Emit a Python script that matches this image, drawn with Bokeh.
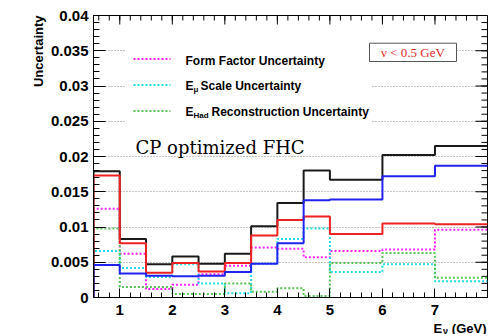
from bokeh.plotting import figure
from bokeh.models import Range1d, FixedTicker, Label
from bokeh.embed import file_html
from bokeh.resources import INLINE

# Neutrino energy binning (GeV)
bin_edges = [0.5, 1.0, 1.5, 2.0, 2.5, 3.0, 3.5, 4.0, 4.5, 5.0, 6.0, 7.0, 8.0]

# Fractional uncertainties per bin
total_unc = [0.0179, 0.0083, 0.0047, 0.0058, 0.0048, 0.0062,
             0.0101, 0.0134, 0.0180, 0.0167, 0.0202, 0.0215]
combined_syst = [0.0173, 0.0077, 0.0035, 0.0049, 0.0037, 0.0049,
                 0.0088, 0.0110, 0.0115, 0.0090, 0.0105, 0.0104]
other_unc = [0.0046, 0.0034, 0.0031, 0.0030, 0.0031, 0.0036,
             0.0048, 0.0077, 0.0138, 0.0139, 0.0172, 0.0187]
form_factor_unc = [0.0126, 0.0062, 0.0012, 0.0018, 0.0033, 0.0045,
                   0.0071, 0.0069, 0.0057, 0.0066, 0.0068, 0.0096]
emu_scale_unc = [0.0066, 0.0042, 0.0029, 0.0047, 0.0020, 0.0006,
                 0.0048, 0.0083, 0.0098, 0.0036, 0.0047, 0.0023]
ehad_reco_unc = [0.0098, 0.0015, 0.0015, 0.0005, 0.0005, 0.0020,
                 0.0008, 0.0013, 0.0002, 0.0049, 0.0063, 0.0028]

y_ticks = [0, 0.005, 0.01, 0.015, 0.02, 0.025, 0.03, 0.035, 0.04]
y_tick_labels = ["0", "0.005", "0.01", "0.015", "0.02", "0.025", "0.03", "0.035", "0.04"]
x_ticks = [1, 2, 3, 4, 5, 6, 7]
x_tick_labels = ["1", "2", "3", "4", "5", "6", "7"]

X_MIN, X_MAX = 0.5, 8.0
Y_MIN, Y_MAX = 0.0, 0.04

# canvas geometry of the frame (pixels)
W, H = 498, 334
FL, FR, FT, FB = 93, 487, 15, 297

SANS = "Liberation Sans"

PX_PER_X = (FR - FL) / (X_MAX - X_MIN)
PX_PER_Y = (FB - FT) / (Y_MAX - Y_MIN)


def dx(px):
    return X_MIN + (px - FL) / PX_PER_X


def dy(py):
    return Y_MIN + (FB - py) / PX_PER_Y


p = figure(width=W, height=H, x_range=Range1d(X_MIN, X_MAX), y_range=Range1d(Y_MIN, Y_MAX),
           output_backend="svg", toolbar_location=None,
           min_border_left=FL, min_border_right=W - FR,
           min_border_top=FT, min_border_bottom=H - FB)
p.background_fill_color = "white"
p.border_fill_color = "white"
p.outline_line_color = "black"
p.outline_line_width = 1

x_minor = [round(X_MIN + 0.2 * i + 0.1, 1) for i in range(38)]
y_minor = [round(0.001 * i, 3) for i in range(41)]

X_MAJ_LEN, X_MIN_LEN = 9, 5
Y_MAJ_LEN, Y_MIN_LEN = 12, 6

# axes
xa = p.xaxis[0]
xa.ticker = FixedTicker(ticks=x_ticks, minor_ticks=x_minor)
xa.major_label_overrides = dict(zip(x_ticks, x_tick_labels))
ya = p.yaxis[0]
ya.ticker = FixedTicker(ticks=y_ticks, minor_ticks=y_minor)
ya.major_label_overrides = dict(zip(y_ticks, y_tick_labels))

for ax, tin, min_in in ((xa, X_MAJ_LEN, X_MIN_LEN), (ya, Y_MAJ_LEN, Y_MIN_LEN)):
    ax.major_tick_in = tin
    ax.major_tick_out = 0
    ax.minor_tick_in = min_in
    ax.minor_tick_out = 0
    ax.axis_line_color = "black"
    ax.major_tick_line_color = "black"
    ax.minor_tick_line_color = "black"
    ax.major_label_text_font = SANS
    ax.major_label_text_font_style = "bold"
    ax.major_label_text_font_size = "15px"
    ax.major_label_text_color = "black"
xa.major_label_standoff = 7
ya.major_label_standoff = 5

# mirrored ticks on the top and right edges of the frame
p.segment(x0=x_ticks, y0=[Y_MAX] * len(x_ticks), x1=x_ticks,
          y1=[Y_MAX - X_MAJ_LEN / PX_PER_Y] * len(x_ticks), line_color="black", line_width=1)
p.segment(x0=x_minor, y0=[Y_MAX] * len(x_minor), x1=x_minor,
          y1=[Y_MAX - X_MIN_LEN / PX_PER_Y] * len(x_minor), line_color="black", line_width=1)
p.segment(x0=[X_MAX] * len(y_ticks), y0=y_ticks, x1=[X_MAX - Y_MAJ_LEN / PX_PER_X] * len(y_ticks),
          y1=y_ticks, line_color="black", line_width=1)
p.segment(x0=[X_MAX] * len(y_minor), y0=y_minor, x1=[X_MAX - Y_MIN_LEN / PX_PER_X] * len(y_minor),
          y1=y_minor, line_color="black", line_width=1)

p.xgrid.visible = False
p.ygrid.ticker = FixedTicker(ticks=y_ticks[1:-1])
p.ygrid.grid_line_color = "#8a8a8a"
p.ygrid.grid_line_dash = "1 2"
p.ygrid.grid_line_width = 1


def hist_xy(vals):
    xs = [bin_edges[0]] + list(bin_edges)
    ys = [0.0] + list(vals) + [vals[-1]]
    return xs, ys


DOT = "2 2"
series = [
    (form_factor_unc, "#ff22ff", DOT),
    (emu_scale_unc, "#22dde6", DOT),
    (ehad_reco_unc, "#55c455", DOT),
    (total_unc, "#1a1a1a", "solid"),
    (combined_syst, "#ee2222", "solid"),
    (other_unc, "#2222ee", "solid"),
]
for vals, col, dash in series:
    xs, ys = hist_xy(vals)
    p.step(xs, ys, mode="after", line_color=col, line_width=2, line_dash=dash)

# legend panel (covers the grid behind it)
p.quad(left=[dx(125)], right=[dx(371)], top=[dy(41)], bottom=[dy(130)],
       fill_color="white", line_color=None)

legend_rows = [("#ff22ff", 58.5), ("#22dde6", 84.5), ("#55c455", 110.5)]
for col, py in legend_rows:
    p.line([dx(133), dx(170)], [dy(py), dy(py)], line_color=col, line_width=2, line_dash=DOT)


def txt(px, py, text, size="12px", style="bold", font=SANS, color="black",
        align="left", baseline="middle", angle=0, place="center"):
    p.add_layout(Label(x=dx(px), y=dy(py), text=text, text_font=font,
                       text_font_size=size, text_font_style=style, text_color=color,
                       text_align=align, text_baseline=baseline, angle=angle), place)


txt(185, 60.5, "Form Factor Uncertainty")
txt(185, 85, "E")
txt(193, 89, "\u03bc", size="8px")
txt(200, 85, "Scale Uncertainty")
txt(185, 111, "E")
txt(193, 114.5, "Had", size="8px")
txt(211, 111, "Reconstruction Uncertainty")

# selection box
p.quad(left=[dx(369)], right=[dx(456)], top=[dy(42.7)], bottom=[dy(61)],
       fill_color="white", line_color="#555555", line_width=1)
txt(412.5, 52, "\u03bd < 0.5 GeV", size="13px", style="normal",
    font="Liberation Serif", color="#e02828", align="center")

txt(135, 147, "CP optimized FHC", size="18px", style="normal",
    font="DejaVu Serif", baseline="alphabetic")

# axis titles live in side panels (not clipped to the frame); they are spread
# over panels with spare room so the frame keeps its size
txt(38, 15, "Uncertainty", size="13px", align="right", angle=1.5708, place="left")
txt(433, 327.5, "E", size="13px", baseline="alphabetic", place="left")
txt(442.5, 330, "\u03bd", size="9px", baseline="alphabetic", place="right")
txt(486, 327.5, "(GeV)", size="13px", align="right", baseline="alphabetic", place="above")

open("out.html", "w").write(file_html(p, INLINE))
